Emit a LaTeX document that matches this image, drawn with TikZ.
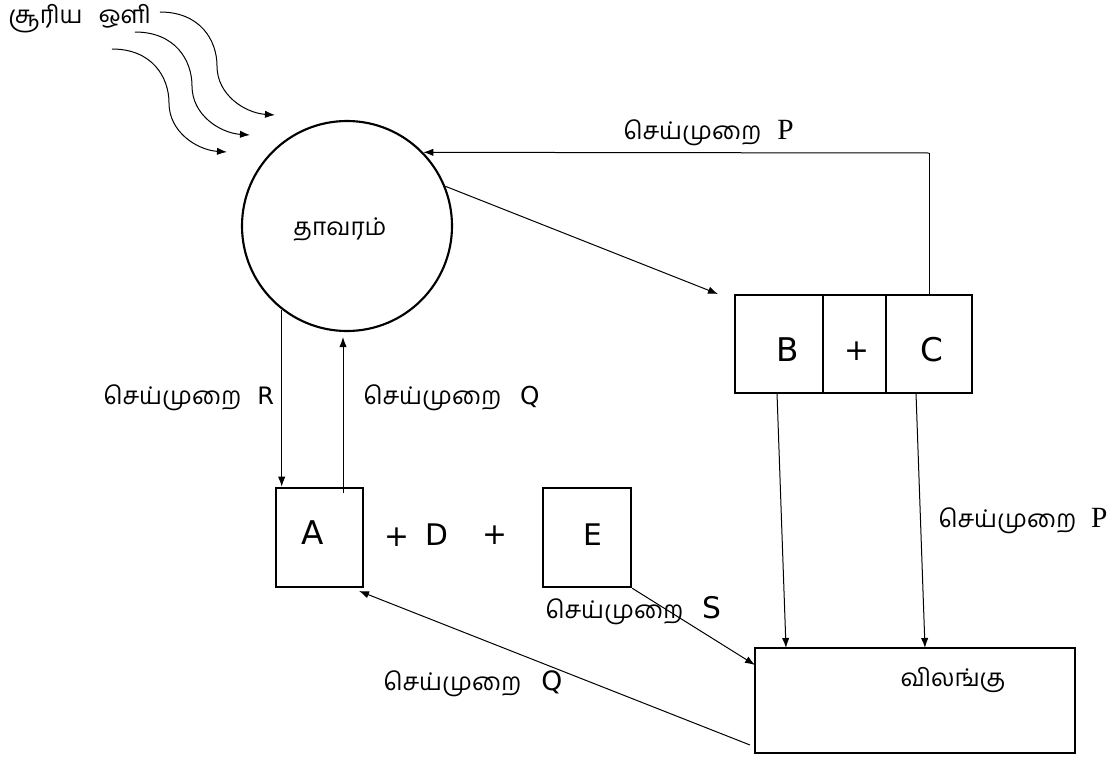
\documentclass[tikz,border=0pt]{standalone}
\usepackage{fontspec}
\setmainfont{DejaVu Sans}
\newfontfamily\tamil[Script=Tamil]{Hind Madurai}
\newfontfamily\romanP{Liberation Serif}
\usetikzlibrary{arrows.meta,fit}

\newcommand{\tamtxt}[1]{{\tamil\fontsize{18.3}{22}\selectfont #1}}

\begin{document}
\begin{tikzpicture}[x=0.75pt,y=-0.75pt,
  box/.style={draw, line width=1.9pt, inner sep=0pt},
  conn/.style={line width=0.75pt, -{Latex[length=7.5pt,width=5.5pt]}},
  link/.style={line width=0.75pt},
  ray/.style={line width=0.75pt, -{Latex[length=7.5pt,width=5.5pt]}},
  tam/.style={font=\tamil\fontsize{18.3}{22}\selectfont, inner sep=0pt},
  lbl/.style={inner sep=0pt, anchor=west},
  big/.style={font=\fontsize{24.5}{28}\selectfont, inner sep=0pt},
  mid/.style={font=\fontsize{22.3}{26}\selectfont, inner sep=0pt},
]
\useasboundingbox (0,0) rectangle (1117,760);

% sunlight
\node[tam, anchor=west] (sun) at (8,19) {சூரிய\hspace{12pt}ஒளி};
\foreach \dx/\dy in {0/0, -25/20, -48/37}{
  \draw[ray, shift={(\dx,\dy)}] (160,12) .. controls (200,12) and (217,40) .. (217,66)
        .. controls (217,95) and (245,113) .. (275,115);
}

% plant
\node[draw, circle, line width=1.6pt, minimum size=157.5pt, inner sep=0pt] (plant) at (347,226) {};
\node[tam] (plantlbl) at (340,229) {தாவரம்};

% boxes A and E with D between
\coordinate (a1) at (276,488); \coordinate (a2) at (363,587);
\node[box, fit=(a1)(a2)] (A) {};
\node[big] (Albl) at (313,533) {A};
\coordinate (e1) at (543,488); \coordinate (e2) at (631,587);
\node[box, fit=(e1)(e2)] (E) {};
\node[mid] (Elbl) at (593,535) {E};
\node[mid] (plus1) at (397,537) {+};
\node[mid] (Dlbl) at (437,535) {D};
\node[mid] (plus2) at (495,535) {+};

% box B + C
\coordinate (b1) at (735,295); \coordinate (b2) at (823,393);
\coordinate (c1) at (886,295); \coordinate (c2) at (972,393);
\node[box, fit=(b1)(b2)] (Bcell) {};
\node[box, fit=(b2)(c1)] (pluscell) {};
\node[box, fit=(c1)(c2)] (Ccell) {};
\node[big] (Blbl) at (788,350) {B};
\node[mid] (plus3) at (857,351) {+};
\node[big] (Clbl) at (932,350) {C};

% animal
\coordinate (n1) at (755,648); \coordinate (n2) at (1075,753);
\node[box, fit=(n1)(n2)] (animal) {};
\node[tam] (animallbl) at (953,680) {விலங்கு};

% connector end points
\coordinate (pturn) at (929,153);
\coordinate (ctop) at (929,295);
\coordinate (bin) at (718,294);
\coordinate (qfoot) at (343,493);
\coordinate (qtip) at (343,337);
\coordinate (bfoot) at (777,393);
\coordinate (btip) at (786,648);
\coordinate (cfoot) at (916,393);
\coordinate (ctip) at (925,648);
\coordinate (stip) at (755,665);
\coordinate (qfoot2) at (750,745);
\coordinate (atip) at (359,591);

% connectors
\draw[link] (ctop) -- (pturn);
\draw[conn] (pturn) -- (plant.44);
\draw[conn] (plant.22) -- (bin);
\draw[conn] (plant.-128) -- (plant.-128 |- A.north);
\draw[conn] (qfoot) -- (qtip);
\draw[conn] (bfoot) -- (btip);
\draw[conn] (cfoot) -- (ctip);
\draw[conn] (E.south east) -- (stip);
\draw[conn] (qfoot2) -- (atip);

% process labels
\node[lbl] (lblP1) at (623,133) {\tamtxt{செய்முறை}\hspace{12pt}{\romanP\fontsize{22}{24}\selectfont P}};
\node[lbl] (lblR) at (103,398) {\tamtxt{செய்முறை}\hspace{12pt}{\fontsize{18}{20}\selectfont R}};
\node[lbl] (lblQ1) at (363,398) {\tamtxt{செய்முறை}\hspace{14pt}{\fontsize{18.5}{20}\selectfont Q}};
\node[lbl] (lblP2) at (938,521) {\tamtxt{செய்முறை}\hspace{11pt}{\romanP\fontsize{22}{24}\selectfont P}};
\node[lbl] (lblS) at (545,611) {\tamtxt{செய்முறை}\hspace{14pt}{\fontsize{22.3}{26}\selectfont S}};
\node[lbl] (lblQ2) at (383,684) {\tamtxt{செய்முறை}\hspace{15pt}{\fontsize{20}{24}\selectfont Q}};
\end{tikzpicture}
\end{document}
